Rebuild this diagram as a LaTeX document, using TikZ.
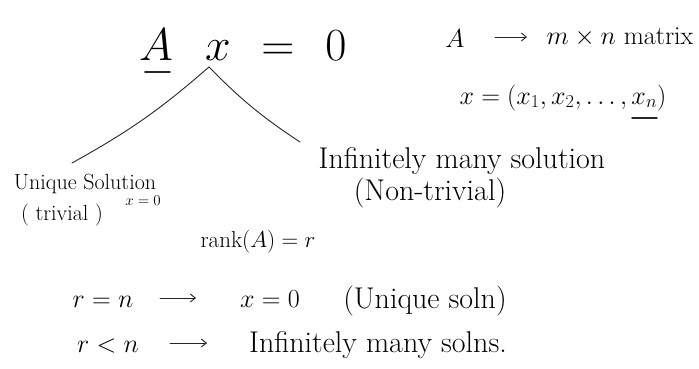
\RequirePackage{fix-cm}
\documentclass[tikz,border=0pt]{standalone}
\usepackage{fontspec}
\usetikzlibrary{arrows.meta}
\begin{document}
\begin{tikzpicture}[x=1pt,y=-1pt,
  ink/.style={draw=black!85, line width=0.9pt, line cap=round},
  arr/.style={ink, -{Straight Barb[length=5pt,width=8pt]}},
  big/.style={font=\fontsize{46}{50}\selectfont, inner sep=0pt, anchor=base},
  mid/.style={font=\fontsize{26}{30}\selectfont, inner sep=0pt, anchor=base},
  txt/.style={font=\fontsize{30}{34}\selectfont, inner sep=0pt, anchor=base},
  sm/.style={font=\fontsize{22}{26}\selectfont, inner sep=0pt, anchor=base},
  tiny/.style={font=\fontsize{15}{18}\selectfont, inner sep=0pt, anchor=base}]
\useasboundingbox (0,0) rectangle (699,369);
% top equation
\node[big] (A) at (156,60) {$A$};
\node[big] (x) at (218,60) {$x$};
\node[big] (eq) at (278,60) {$=$};
\node[big] (zero) at (336,60) {$0$};
\coordinate (Aul1) at (145,72);
\coordinate (Aul2) at (170,72);
\draw[ink, line width=1.6pt] (Aul1) -- (Aul2);
% branches
\coordinate (top) at (209,67);
\coordinate (lend) at (72,163);
\coordinate (rend) at (300,142);
\draw[ink] (top) to[bend left=6] (lend);
\draw[ink] (top) to[bend right=6] (rend);
% left branch
\node[sm] (uniq) at (85,189) {Unique Solution};
\node[sm] (triv) at (62,220) {( trivial )};
\node[tiny] (xz) at (143,205) {$x=0$};
% right branch
\node[txt] (inf) at (462,168) {Infinitely many solution};
\node[txt] (nontriv) at (430,200) {(Non-trivial)};
% right top
\node[mid] (A2) at (455,48) {$A$};
\node[mid] (mxn) at (620,45) {$m\times n$ matrix};
\coordinate (a0s) at (495,37);
\coordinate (a0e) at (527,37);
\draw[arr] (a0s) -- (a0e);
\node[mid] (xvec) at (563,104) {$x=(x_1,x_2,\ldots,x_n)$};
\coordinate (xul1) at (632,118);
\coordinate (xul2) at (657,118);
\draw[ink, line width=1.4pt] (xul1) -- (xul2);
% rank
\node[font=\fontsize{23}{27}\selectfont, inner sep=0pt, anchor=base] (rank) at (258,247) {rank$(A)=r$};
% cases
\node[mid] (r1) at (103,307) {$r=n$};
\node[mid] (x0) at (270,307) {$x=0$};
\node[txt] (us) at (425,308) {(Unique soln)};
\coordinate (a1s) at (160,298);
\coordinate (a1e) at (196,298);
\draw[arr] (a1s) -- (a1e);
\node[mid] (r2) at (108,352) {$r<n$};
\node[txt] (ims) at (378,352) {Infinitely many solns.};
\coordinate (a2s) at (170,343);
\coordinate (a2e) at (207,343);
\draw[arr] (a2s) -- (a2e);
\end{tikzpicture}
\end{document}
